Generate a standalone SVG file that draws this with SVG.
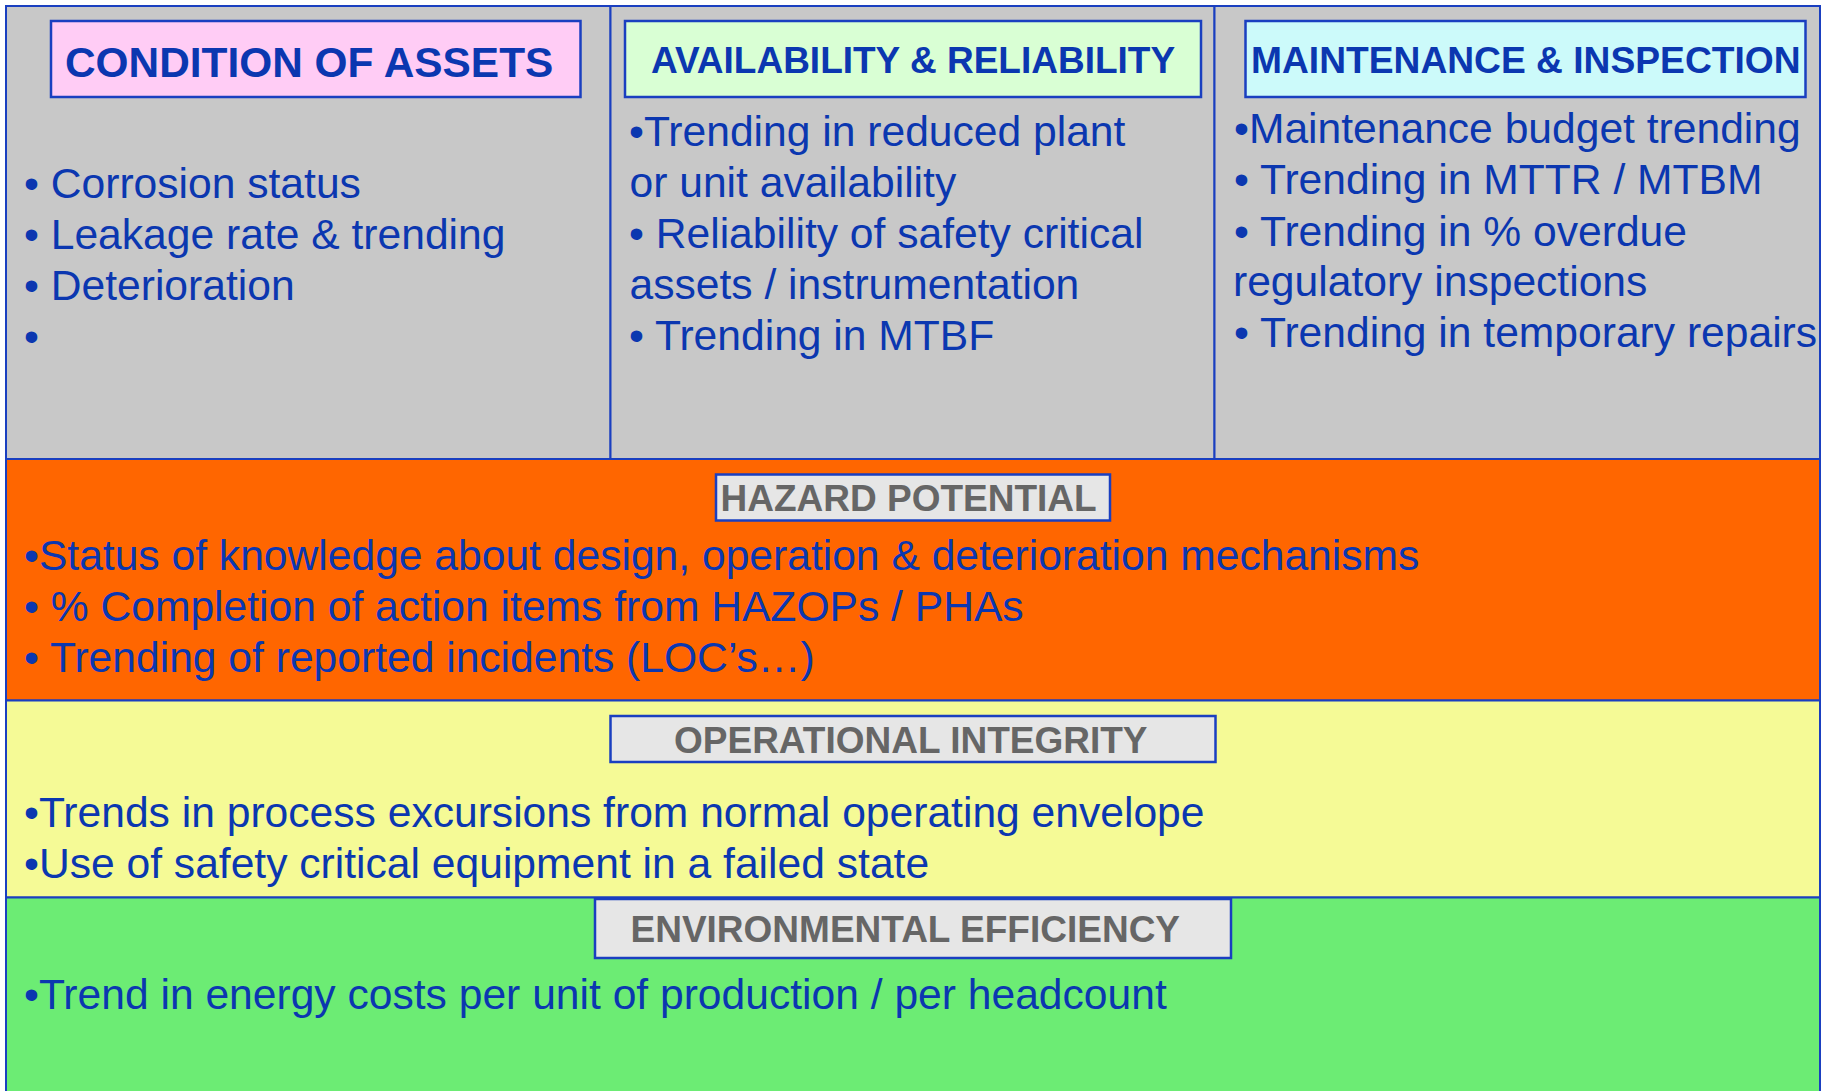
<svg xmlns="http://www.w3.org/2000/svg" width="1831" height="1091" viewBox="0 0 1831 1091">
  <style>
    .panel { stroke: #1A3FC0; stroke-width: 2; }
    .hbox { stroke: #1A3FC0; stroke-width: 2.5; }
    .gbox { fill: #E6E6E6; stroke: #1A3FC0; stroke-width: 2.5; }
    .htxt { font-family: "Liberation Sans", Arial, sans-serif; font-weight: bold; fill: #0B37B0; }
    .gtxt { font-family: "Liberation Sans", Arial, sans-serif; font-weight: bold; fill: #666666; font-size: 37px; }
    .body { font-family: "Liberation Sans", Arial, sans-serif; font-size: 42.6px; fill: #0B37B0; }
  </style>
  <rect x="0" y="0" width="1831" height="1091" fill="#FFFFFF"/>

  <g id="condition-of-assets">
    <rect class="panel" x="6" y="6" width="604.5" height="453" fill="#C8C8C8"/>
    <rect class="hbox" x="51" y="21" width="529.5" height="76" fill="#FFCCF5"/>
    <text class="htxt" x="65" y="77" font-size="42.4">CONDITION OF ASSETS</text>
    <text class="body" x="24" y="198">• Corrosion status</text>
    <text class="body" x="24" y="249">• Leakage rate &amp; trending</text>
    <text class="body" x="24" y="300">• Deterioration</text>
    <text class="body" x="24" y="351">•</text>
  </g>

  <g id="availability-reliability">
    <rect class="panel" x="610.5" y="6" width="604" height="453" fill="#C8C8C8"/>
    <rect class="hbox" x="625" y="21" width="576" height="76" fill="#D9FFD4"/>
    <text class="htxt" x="913" y="73" font-size="37" text-anchor="middle">AVAILABILITY &amp; RELIABILITY</text>
    <text class="body" x="629" y="146">•Trending in reduced plant</text>
    <text class="body" x="629.5" y="197">or unit availability</text>
    <text class="body" x="629" y="248">• Reliability of safety critical</text>
    <text class="body" x="629.5" y="299">assets / instrumentation</text>
    <text class="body" x="629" y="350">• Trending in MTBF</text>
  </g>

  <g id="maintenance-inspection">
    <rect class="panel" x="1214.5" y="6" width="605.5" height="453" fill="#C8C8C8"/>
    <rect class="hbox" x="1245.5" y="21" width="560" height="76" fill="#CCFAFA"/>
    <text class="htxt" x="1251" y="73" font-size="37.2">MAINTENANCE &amp; INSPECTION</text>
    <text class="body" x="1234" y="143">•Maintenance budget trending</text>
    <text class="body" x="1234" y="194">• Trending in MTTR / MTBM</text>
    <text class="body" x="1234" y="245.5">• Trending in % overdue</text>
    <text class="body" x="1233" y="296">regulatory inspections</text>
    <text class="body" x="1234" y="347">• Trending in temporary repairs</text>
  </g>

  <g id="hazard-potential">
    <rect class="panel" x="6" y="459" width="1814" height="241.5" fill="#FF6600"/>
    <rect class="gbox" x="716" y="474.5" width="394" height="46"/>
    <text class="gtxt" x="720.5" y="511">HAZARD POTENTIAL</text>
    <text class="body" x="24" y="570">•Status of knowledge about design, operation &amp; deterioration mechanisms</text>
    <text class="body" x="24" y="621">• % Completion of action items from HAZOPs / PHAs</text>
    <text class="body" x="24" y="672">• Trending of reported incidents (LOC’s…)</text>
  </g>

  <g id="operational-integrity">
    <rect class="panel" x="6" y="700.5" width="1814" height="197" fill="#F5FA96"/>
    <rect class="gbox" x="610.5" y="716" width="605" height="46"/>
    <text class="gtxt" x="674" y="753" font-size="37.3">OPERATIONAL INTEGRITY</text>
    <text class="body" x="24" y="827">•Trends in process excursions from normal operating envelope</text>
    <text class="body" x="24" y="878">•Use of safety critical equipment in a failed state</text>
  </g>

  <g id="environmental-efficiency">
    <rect class="panel" x="6" y="897.5" width="1814" height="200" fill="#6CEC74"/>
    <rect class="gbox" x="595" y="899" width="636" height="59"/>
    <text class="gtxt" x="630.5" y="941.5" font-size="36.8">ENVIRONMENTAL EFFICIENCY</text>
    <text class="body" x="24" y="1009">•Trend in energy costs per unit of production / per headcount</text>
  </g>

  <g id="connectors"></g>
</svg>
